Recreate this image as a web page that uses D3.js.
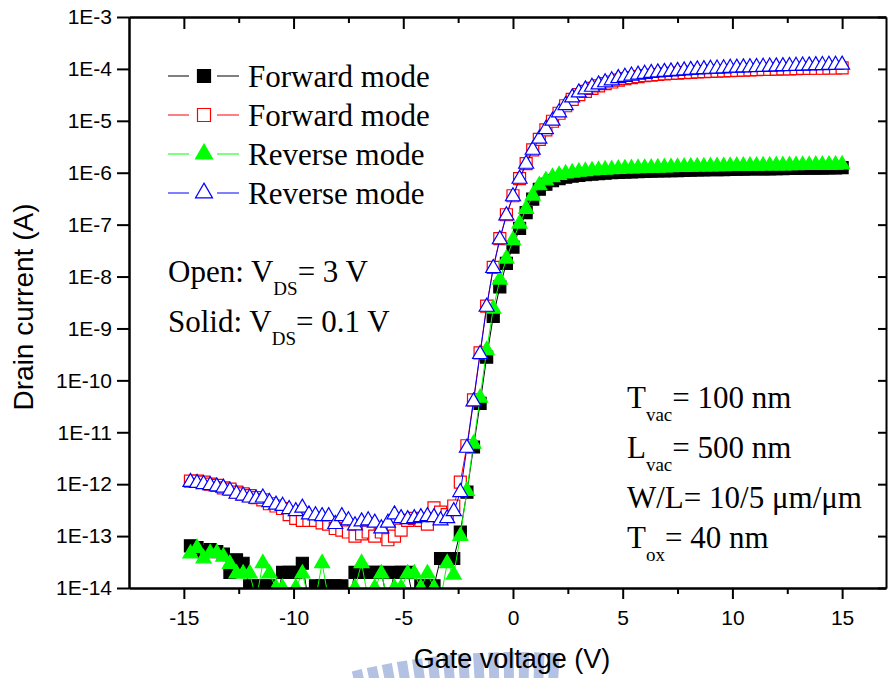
<!DOCTYPE html>
<html lang="en">
<head>
<meta charset="UTF-8" />
<title>Drain current vs gate voltage</title>
<script src="https://d3js.org/d3.v7.min.js"></script>
<style>
  body { margin: 0; background: #fff; }
  svg { display: block; }
  .serif { font-family: "Liberation Serif", "Times New Roman", serif; fill: #000; }
  .sans { font-family: "Liberation Sans", Arial, sans-serif; fill: #000; }
</style>
</head>
<body>
<svg id="chart" width="888" height="678"></svg>
<script>
// gate voltage sweep (V)
var gateVoltage = [
  -14.7,-14.4,-14.1,-13.8,-13.5,-13.2,-12.9,-12.6,-12.3,-12.0,
  -11.7,-11.4,-11.1,-10.8,-10.5,-10.2,-9.9,-9.6,-9.3,-9.0,
  -8.7,-8.4,-8.1,-7.8,-7.5,-7.2,-6.9,-6.6,-6.3,-6.0,
  -5.7,-5.4,-5.1,-4.8,-4.5,-4.2,-3.9,-3.6,-3.3,-3.0,
  -2.7,-2.4,-2.1,-1.8,-1.5,-1.2,-0.9,-0.6,-0.3,0.0,
  0.3,0.6,0.9,1.2,1.5,1.8,2.1,2.4,2.7,3.0,
  3.3,3.6,3.9,4.2,4.5,4.8,5.1,5.4,5.7,6.0,
  6.3,6.6,6.9,7.2,7.5,7.8,8.1,8.4,8.7,9.0,
  9.3,9.6,9.9,10.2,10.5,10.8,11.1,11.4,11.7,12.0,
  12.3,12.6,12.9,13.2,13.5,13.8,14.1,14.4,14.7,15.0
];

// Forward mode, VDS = 0.1 V (solid squares)
var fwdSolid = [
  6.5e-14,6.0e-14,5.0e-14,5.5e-14,5.0e-14,4.5e-14,2.0e-14,3.5e-14,3.0e-14,1.1e-14,
  1.1e-14,1.1e-14,1.1e-14,5e-15,2.0e-14,2.0e-14,2.0e-14,3.0e-14,5e-15,1.1e-14,
  1.1e-14,1.1e-14,1.1e-14,1.1e-14,5e-15,2.0e-14,2.0e-14,2.0e-14,2.0e-14,2.0e-14,
  5e-15,2.0e-14,2.0e-14,2.0e-14,5e-15,1.1e-14,1.1e-14,1.1e-14,3.7e-14,3.7e-14,
  3.7e-14,1.2e-13,7.0e-13,5.2e-12,3.6e-11,2.8e-10,1.7e-9,6.3e-9,1.8e-8,3.7e-8,
  8.5e-8,1.7e-7,3.1e-7,4.8e-7,6.0e-7,7.0e-7,7.7e-7,8.2e-7,8.6e-7,8.9e-7,
  9.2e-7,9.4e-7,9.6e-7,9.8e-7,1.0e-6,1.01e-6,1.03e-6,1.04e-6,1.05e-6,1.06e-6,
  1.07e-6,1.08e-6,1.09e-6,1.1e-6,1.1e-6,1.11e-6,1.12e-6,1.13e-6,1.13e-6,1.14e-6,
  1.15e-6,1.15e-6,1.16e-6,1.17e-6,1.17e-6,1.18e-6,1.18e-6,1.19e-6,1.19e-6,1.2e-6,
  1.2e-6,1.21e-6,1.21e-6,1.22e-6,1.22e-6,1.23e-6,1.23e-6,1.24e-6,1.24e-6,1.25e-6
];

// Forward mode, VDS = 3 V (open squares)
var fwdOpen = [
  1.15e-12,1.15e-12,1.1e-12,1.0e-12,9.5e-13,8.5e-13,8.0e-13,7.0e-13,6.5e-13,6.0e-13,
  5.5e-13,5.0e-13,4.2e-13,3.8e-13,3.4e-13,2.6e-13,2.2e-13,2.0e-13,2.0e-13,2.0e-13,
  1.8e-13,1.7e-13,1.4e-13,1.3e-13,1.2e-13,1.0e-13,1.1e-13,1.2e-13,1.0e-13,1.2e-13,
  8.5e-14,1.0e-13,1.3e-13,2.0e-13,2.2e-13,2.0e-13,1.7e-13,3.5e-13,2.9e-13,2.6e-13,
  3.8e-13,1.1e-12,5.5e-12,4.2e-11,3.4e-10,2.7e-9,1.5e-8,5.4e-8,1.55e-7,3.6e-7,
  7.7e-7,1.5e-6,2.75e-6,4.4e-6,6.7e-6,9.8e-6,1.4e-5,1.95e-5,2.6e-5,3.2e-5,
  3.7e-5,4.2e-5,4.7e-5,5.2e-5,5.6e-5,6.1e-5,6.5e-5,6.8e-5,7.1e-5,7.4e-5,
  7.6e-5,7.8e-5,8.0e-5,8.2e-5,8.3e-5,8.5e-5,8.6e-5,8.8e-5,8.9e-5,9.0e-5,
  9.1e-5,9.2e-5,9.3e-5,9.4e-5,9.5e-5,9.6e-5,9.7e-5,9.8e-5,9.8e-5,9.9e-5,
  1.0e-4,1.0e-4,1.01e-4,1.02e-4,1.02e-4,1.03e-4,1.03e-4,1.04e-4,1.04e-4,1.05e-4
];

// Reverse mode, VDS = 0.1 V (solid triangles)
var revSolid = [
  4.6e-14,5.9e-14,3.7e-14,4.7e-14,4.7e-14,4.0e-14,2.9e-14,1.9e-14,1.9e-14,1.9e-14,
  6e-15,3.0e-14,1.9e-14,1.0e-14,1.0e-14,6e-15,1.0e-14,1.9e-14,6e-15,6e-15,
  3.0e-14,6e-15,6e-15,6e-15,6e-15,1.0e-14,3.0e-14,6e-15,1.0e-14,1.9e-14,
  6e-15,1.0e-14,1.0e-14,1.9e-14,1.9e-14,1.0e-14,1.9e-14,1.0e-14,6e-15,3.0e-14,
  1.8e-14,1.0e-13,7.4e-13,6.0e-12,4.6e-11,3.8e-10,2.4e-9,8.7e-9,2.2e-8,5.0e-8,
  1.04e-7,2.0e-7,3.6e-7,5.7e-7,7.1e-7,8.2e-7,9.0e-7,9.6e-7,1.0e-6,1.04e-6,
  1.07e-6,1.1e-6,1.12e-6,1.14e-6,1.16e-6,1.18e-6,1.2e-6,1.21e-6,1.22e-6,1.23e-6,
  1.24e-6,1.25e-6,1.26e-6,1.27e-6,1.28e-6,1.29e-6,1.3e-6,1.31e-6,1.31e-6,1.32e-6,
  1.33e-6,1.33e-6,1.34e-6,1.35e-6,1.35e-6,1.36e-6,1.36e-6,1.37e-6,1.37e-6,1.38e-6,
  1.38e-6,1.39e-6,1.39e-6,1.4e-6,1.4e-6,1.41e-6,1.41e-6,1.42e-6,1.42e-6,1.43e-6
];

// Reverse mode, VDS = 3 V (open triangles)
var revOpen = [
  1.1e-12,1.05e-12,1.0e-12,9.5e-13,9.0e-13,8.5e-13,7.5e-13,6.5e-13,6.0e-13,5.5e-13,
  5.2e-13,5.5e-13,4.5e-13,4.0e-13,3.8e-13,3.3e-13,3.0e-13,3.5e-13,2.6e-13,2.5e-13,
  2.4e-13,2.4e-13,1.7e-13,2.4e-13,2.0e-13,1.6e-13,1.9e-13,2.0e-13,1.8e-13,1.4e-13,
  1.8e-13,2.6e-13,2.2e-13,2.1e-13,2.2e-13,2.3e-13,2.4e-13,2.3e-13,2.0e-13,2.2e-13,
  3.0e-13,7.0e-13,5.0e-12,3.9e-11,3.2e-10,2.6e-9,1.45e-8,5.2e-8,1.5e-7,3.5e-7,
  7.6e-7,1.48e-6,2.75e-6,4.5e-6,6.9e-6,1.0e-5,1.45e-5,2.0e-5,2.8e-5,3.5e-5,
  4.0e-5,4.5e-5,5.0e-5,5.5e-5,6.0e-5,6.6e-5,7.0e-5,7.4e-5,7.7e-5,8.0e-5,
  8.3e-5,8.5e-5,8.7e-5,8.9e-5,9.1e-5,9.3e-5,9.5e-5,9.7e-5,9.8e-5,1.0e-4,
  1.01e-4,1.02e-4,1.04e-4,1.05e-4,1.06e-4,1.07e-4,1.08e-4,1.09e-4,1.10e-4,1.11e-4,
  1.12e-4,1.13e-4,1.14e-4,1.15e-4,1.16e-4,1.17e-4,1.18e-4,1.19e-4,1.19e-4,1.2e-4
];

var xTicks = [-15, -10, -5, 0, 5, 10, 15];
var xMinorTicks = [-12.5, -7.5, -2.5, 2.5, 7.5, 12.5];
var yTicks = [1e-3, 1e-4, 1e-5, 1e-6, 1e-7, 1e-8, 1e-9, 1e-10, 1e-11, 1e-12, 1e-13, 1e-14];
var yTickLabels = ["1E-3","1E-4","1E-5","1E-6","1E-7","1E-8","1E-9","1E-10","1E-11","1E-12","1E-13","1E-14"];
var legendNames = ["Forward mode", "Forward mode", "Reverse mode", "Reverse mode"];

// plot frame (pixels)
var frameL = 129, frameR = 886, frameT = 17, frameB = 588;

var svg = d3.select("#chart");

var x = d3.scaleLinear().domain([-17.5, 17]).range([frameL, frameR]);
var y = d3.scaleLog().domain([1e-14, 1e-3]).range([frameB, frameT]);

// Origin-style markers: "size" is the marker width in px
var squareMark = {
  draw: function(ctx, w) {
    var h = w / 2;
    ctx.moveTo(-h, -h); ctx.lineTo(h, -h); ctx.lineTo(h, h); ctx.lineTo(-h, h); ctx.closePath();
  }
};
var triangleMark = {
  draw: function(ctx, w) {
    var h = w * 0.87;
    ctx.moveTo(0, -h * 2 / 3); ctx.lineTo(w / 2, h / 3); ctx.lineTo(-w / 2, h / 3); ctx.closePath();
  }
};

// faint watermark arc behind the x label
var wm = d3.path();
wm.arc(515, 1347, 680, -Math.PI / 2 - 0.237, -Math.PI / 2 + 0.066);
svg.append("path")
  .attr("d", wm.toString())
  .attr("fill", "none")
  .attr("stroke", "#b3c1e2")
  .attr("stroke-width", 30)
  .attr("stroke-dasharray", "10 5");

svg.append("clipPath").attr("id", "plotclip")
  .append("rect")
  .attr("x", frameL).attr("y", 0)
  .attr("width", frameR - frameL + 2).attr("height", frameB + 1);

var series = [
  { name: legendNames[0], values: fwdSolid, color: "#000000", shape: squareMark, size: 12, fill: "#000000" },
  { name: legendNames[1], values: fwdOpen, color: "#ff0000", shape: squareMark, size: 12, fill: "#ffffff" },
  { name: legendNames[2], values: revSolid, color: "#00ff00", shape: triangleMark, size: 15, fill: "#00ff00" },
  { name: legendNames[3], values: revOpen, color: "#0000ff", shape: triangleMark, size: 15, fill: "#ffffff" }
];

var plot = svg.append("g").attr("clip-path", "url(#plotclip)");

series.forEach(function(s) {
  var pts = gateVoltage.map(function(v, i) { return [v, s.values[i]]; });
  plot.append("path")
    .datum(pts)
    .attr("fill", "none")
    .attr("stroke", s.color)
    .attr("stroke-width", 1)
    .attr("d", d3.line()
      .x(function(d) { return x(d[0]); })
      .y(function(d) { return y(d[1]); }));
  plot.append("g").selectAll("path")
    .data(pts)
    .enter()
    .append("path")
    .attr("transform", function(d) { return "translate(" + x(d[0]) + "," + y(d[1]) + ")"; })
    .attr("d", d3.symbol().type(s.shape).size(s.size))
    .attr("fill", s.fill)
    .attr("stroke", s.color)
    .attr("stroke-width", 1.2);
});

// axes
function styleAxis(g) {
  g.attr("font-family", "Liberation Sans, Arial, sans-serif").attr("font-size", 21);
  g.select(".domain").attr("stroke", "#000").attr("stroke-width", 2);
  g.selectAll(".tick line").attr("stroke", "#000").attr("stroke-width", 2);
  g.selectAll(".tick text").attr("fill", "#000");
}

var yMinor = y.ticks().filter(function(t) { return yTicks.indexOf(t) < 0; });

svg.append("g").attr("transform", "translate(0," + frameB + ")")
  .call(d3.axisBottom(x).tickValues(xMinorTicks).tickSize(6).tickSizeOuter(0).tickFormat(""))
  .call(styleAxis);
svg.append("g").attr("transform", "translate(0," + frameB + ")")
  .call(d3.axisBottom(x).tickValues(xTicks).tickSize(11).tickSizeOuter(0).tickPadding(11)
    .tickFormat(function(d) { return String(d); }))
  .call(styleAxis);

svg.append("g").attr("transform", "translate(0," + frameT + ")")
  .call(d3.axisBottom(x).tickValues(xMinorTicks).tickSize(6).tickSizeOuter(0).tickFormat(""))
  .call(styleAxis);
svg.append("g").attr("transform", "translate(0," + frameT + ")")
  .call(d3.axisBottom(x).tickValues(xTicks).tickSize(12).tickSizeOuter(0).tickFormat(""))
  .call(styleAxis);

svg.append("g").attr("transform", "translate(" + frameL + ",0)")
  .call(d3.axisLeft(y).tickValues(yMinor).tickSize(6).tickSizeOuter(0).tickFormat(""))
  .call(styleAxis);
svg.append("g").attr("transform", "translate(" + frameL + ",0)")
  .call(d3.axisLeft(y).tickValues(yTicks).tickSize(12).tickSizeOuter(0).tickPadding(5)
    .tickFormat(function(d, i) { return yTickLabels[i]; }))
  .call(styleAxis);

svg.append("g").attr("transform", "translate(" + frameR + ",0)")
  .call(d3.axisLeft(y).tickValues(yTicks).tickSize(8).tickSizeOuter(0).tickFormat(""))
  .call(styleAxis);

// axis titles
svg.append("text").attr("class", "sans")
  .attr("x", 512).attr("y", 668)
  .attr("text-anchor", "middle")
  .attr("font-size", 27)
  .text("Gate voltage (V)");

svg.append("text").attr("class", "sans")
  .attr("transform", "translate(33,307) rotate(-90)")
  .attr("text-anchor", "middle")
  .attr("font-size", 28)
  .text("Drain current (A)");

// legend: line, marker, line, name
var legendY = [76, 115, 154, 193];
var legend = svg.append("g");
series.forEach(function(s, i) {
  var row = legend.append("g").attr("transform", "translate(0," + legendY[i] + ")");
  row.append("line").attr("x1", 168).attr("x2", 189).attr("y1", 0).attr("y2", 0)
    .attr("stroke", s.color).attr("stroke-width", 1);
  row.append("line").attr("x1", 217).attr("x2", 239).attr("y1", 0).attr("y2", 0)
    .attr("stroke", s.color).attr("stroke-width", 1);
  row.append("path")
    .attr("transform", "translate(204,0)")
    .attr("d", d3.symbol().type(s.shape).size(s.shape === triangleMark ? 17 : 13))
    .attr("fill", s.fill)
    .attr("stroke", s.color).attr("stroke-width", 1.2);
  row.append("text").attr("class", "serif")
    .attr("x", 248).attr("y", 11)
    .attr("font-size", 31)
    .text(s.name);
});

// annotations with subscripts
function subText(xp, yp, main, sub, rest) {
  var t = svg.append("text").attr("class", "serif")
    .attr("x", xp).attr("y", yp).attr("font-size", 31);
  t.append("tspan").text(main);
  t.append("tspan").attr("font-size", 19).attr("dy", 13).text(sub);
  t.append("tspan").attr("dy", -13).text(rest);
}

subText(168, 282, "Open: V", "DS", "= 3 V");
subText(168, 332, "Solid: V", "DS", "= 0.1 V");

subText(627, 408, "T", "vac", "= 100 nm");
subText(627, 458, "L", "vac", "= 500 nm");
svg.append("text").attr("class", "serif")
  .attr("x", 627).attr("y", 508).attr("font-size", 31)
  .text("W/L= 10/5 \u03bcm/\u03bcm");
subText(627, 548, "T", "ox", "= 40 nm");
</script>
</body>
</html>
